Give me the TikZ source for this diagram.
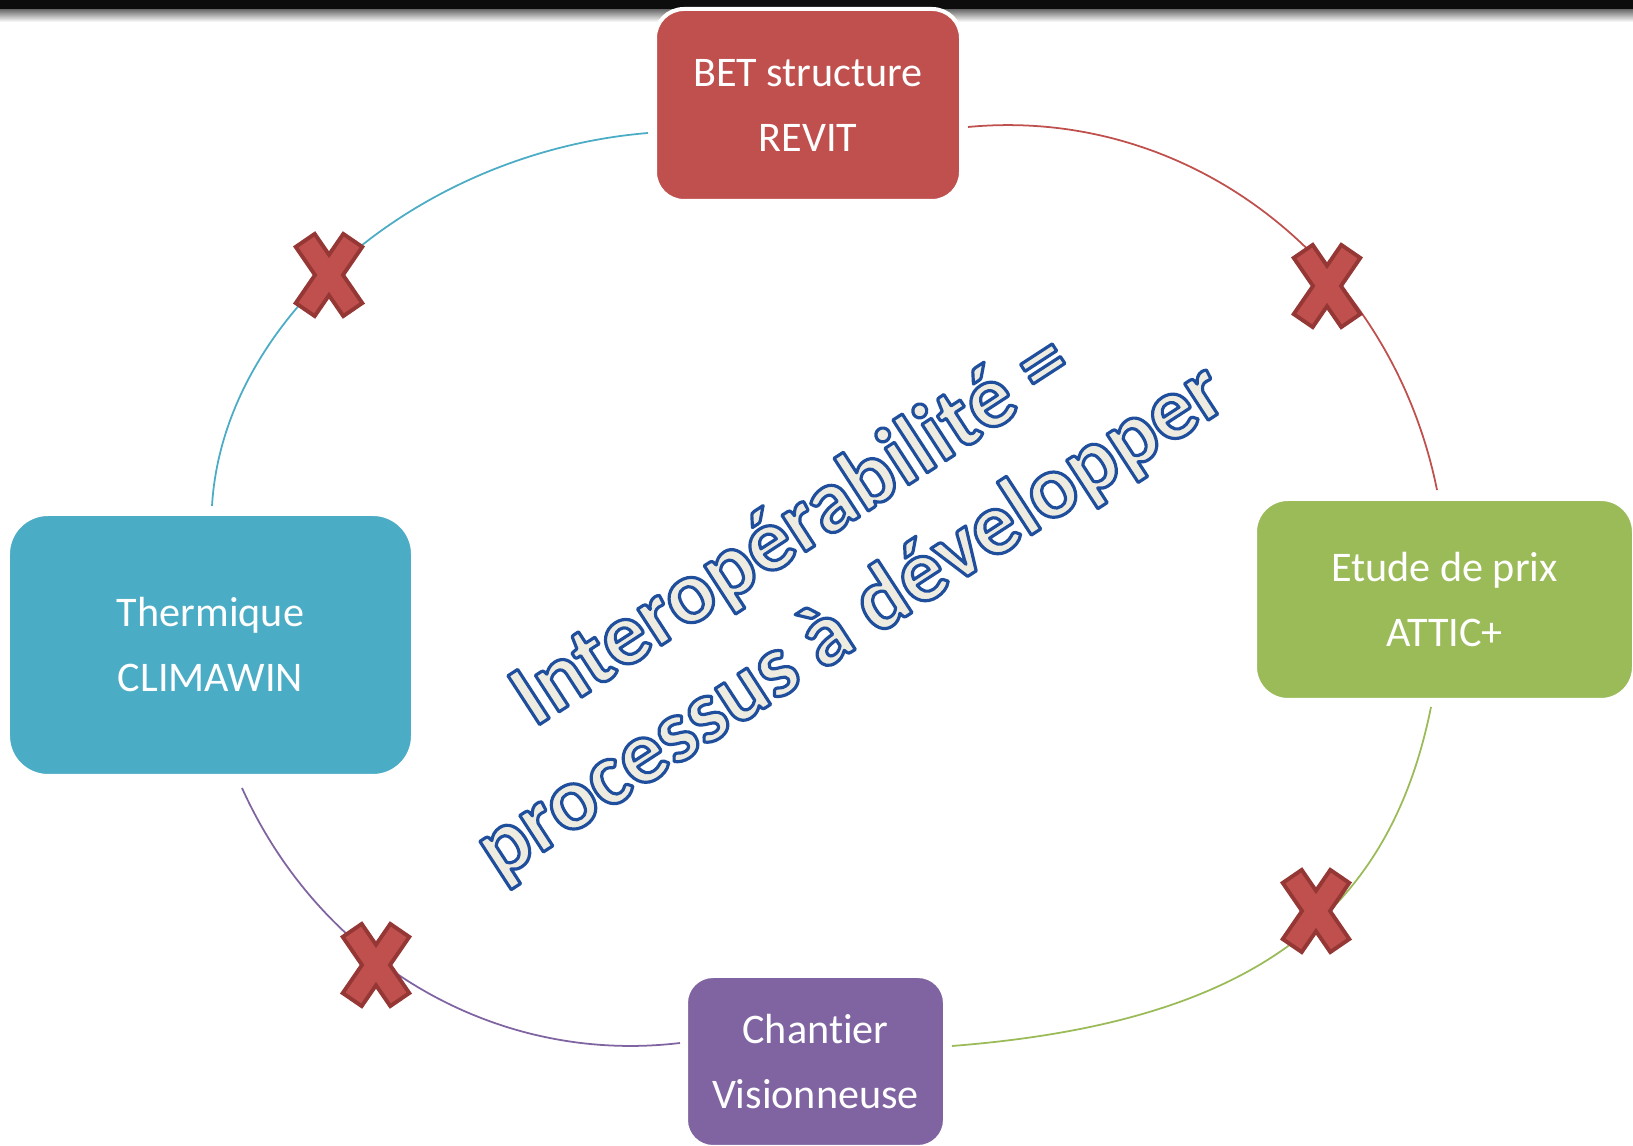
\documentclass[tikz,border=0pt]{standalone}
\usepackage{fontspec}
\setmainfont{Carlito}[Ligatures=NoCommon]
\usetikzlibrary{positioning}

\definecolor{rouge}{HTML}{C0504D}
\definecolor{rougefonce}{HTML}{953735}
\definecolor{bleu}{HTML}{4BACC6}
\definecolor{vert}{HTML}{9BBB59}
\definecolor{violet}{HTML}{8064A2}
\definecolor{creme}{HTML}{EEECE1}
\definecolor{bleutexte}{HTML}{1E4E9C}

% outlined letters: fill in the current colour, stroke in dark blue
\newcommand\lettrescontour[1]{\special{pdf:literal direct 2 Tr 0.9 w 1 j 0.118 0.306 0.612 RG}#1\special{pdf:literal direct 0 Tr}}

\tikzset{croix/.pic={
  \draw[fill=rouge,draw=rougefonce,line width=1.1pt,line join=miter]
   (0,0.203) -- (0.143,0.411) -- (0.333,0.281) -- (0.140,0) -- (0.333,-0.281) -- (0.143,-0.411)
   -- (0,-0.203) -- (-0.143,-0.411) -- (-0.333,-0.281) -- (-0.140,0) -- (-0.333,0.281) -- (-0.143,0.411) -- cycle;
}}

\begin{document}
\begin{tikzpicture}

 \tikzstyle{boite}=[rectangle,draw=white,line width=0.04cm,text=white,align=center,
 inner sep=0cm,font=\fontsize{12}{18.5}\selectfont]
 \tikzstyle{lien}=[line width=0.5pt]

\useasboundingbox (0,0) rectangle (16.33,11.46);
\fill[white] (0,0) rectangle (16.33,11.46);

% Top band
\fill[black!95] (0,11.36) rectangle (16.33,11.46);
\shade[top color=black!55,bottom color=white] (0,11.24) rectangle (16.33,11.36);

\coordinate (centre) at (8.22,5.58);

% Arcs of the cycle
\coordinate (cyanA) at (2.12,6.40);
\coordinate (cyanB) at (6.48,10.13);
\coordinate (rougeA) at (9.68,10.19);
\coordinate (rougeB) at (14.37,6.56);
\coordinate (vertA) at (14.31,4.39);
\coordinate (vertB) at (9.52,1.00);
\coordinate (violetA) at (6.80,1.03);
\coordinate (violetB) at (2.42,3.58);

\draw[lien,bleu] (cyanA) .. controls (2.23,8.27) and (4.19,9.94) .. (cyanB);
\draw[lien,rouge] (rougeA) .. controls (11.90,10.40) and (13.91,8.84) .. (rougeB);
\draw[lien,vert] (vertA) .. controls (13.88,2.25) and (12.45,1.23) .. (vertB);
\draw[lien,violet] (violetA) .. controls (4.96,0.81) and (3.21,1.83) .. (violetB);

% Crosses
\pic at (3.29,8.71) {croix};
\pic at (13.27,8.60) {croix};
\pic at (13.16,2.35) {croix};
\pic at (3.76,1.81) {croix};

% Boxes
\node[boite,fill=rouge,minimum width=3.06cm,minimum height=1.92cm,rounded corners=0.29cm]
 (BET) [node distance=4.83cm,above of=centre,xshift=-0.14cm] {BET structure\\REVIT};
\node[boite,fill=bleu,minimum width=4.05cm,minimum height=2.62cm,rounded corners=0.40cm]
 (Thermique) [node distance=6.115cm,left of=centre,yshift=-0.57cm] {Thermique\\CLIMAWIN};
\node[boite,fill=vert,minimum width=3.79cm,minimum height=2.01cm,rounded corners=0.33cm]
 (Etude) [node distance=6.225cm,right of=centre,yshift=-0.115cm] {Etude de prix\\ATTIC+};
\node[boite,fill=violet,minimum width=2.59cm,minimum height=1.71cm,rounded corners=0.27cm]
 (Chantier) [node distance=4.735cm,below of=centre,xshift=-0.065cm] {Chantier\\Visionneuse};

% Title across the middle
\node[rotate=33,align=center,text=creme,inner sep=0cm,
 font=\fontsize{25.5}{31}\selectfont\bfseries] (Titre) at (8.22,5.69)
 {\lettrescontour{Interopérabilité =}\\\lettrescontour{processus à développer}};

\end{tikzpicture}
\end{document}
